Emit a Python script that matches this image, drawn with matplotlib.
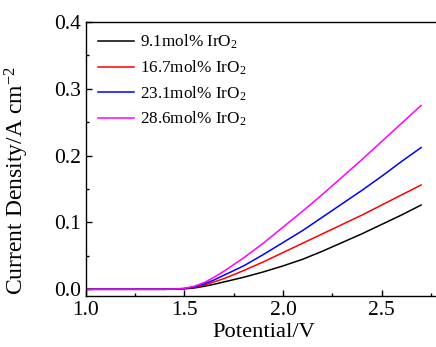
import matplotlib
matplotlib.use('Agg')
import matplotlib.pyplot as plt

plt.rcParams['font.family'] = 'Liberation Serif'
plt.rcParams['mathtext.fontset'] = 'custom'
plt.rcParams['mathtext.rm'] = 'Liberation Serif'
plt.rcParams['mathtext.it'] = 'Liberation Serif:italic'

# potential (V) and current density (A cm^-2)
potential = [1.0, 1.2, 1.4, 1.45, 1.5, 1.55, 1.6, 1.65, 1.7, 1.8, 1.9, 2.0, 2.1, 2.2, 2.3, 2.4, 2.5, 2.6, 2.7]
j_9_1 = [0, 0, 0, 0.0002, 0.0008, 0.002, 0.0045, 0.0075, 0.011, 0.018, 0.026, 0.035, 0.045, 0.057, 0.070, 0.083, 0.097, 0.111, 0.126]
j_16_7 = [0, 0, 0, 0.0002, 0.001, 0.003, 0.0065, 0.011, 0.016, 0.028, 0.041, 0.055, 0.069, 0.083, 0.097, 0.111, 0.126, 0.141, 0.156]
j_23_1 = [0, 0, 0, 0.0003, 0.0012, 0.0035, 0.008, 0.014, 0.021, 0.035, 0.052, 0.070, 0.088, 0.108, 0.128, 0.148, 0.169, 0.191, 0.212]
j_28_6 = [0, 0, 0, 0.0004, 0.0015, 0.0045, 0.010, 0.018, 0.027, 0.047, 0.069, 0.093, 0.117, 0.142, 0.168, 0.194, 0.221, 0.248, 0.275]
labels = ['9.1mol% IrO$_2$', '16.7mol% IrO$_2$', '23.1mol% IrO$_2$', '28.6mol% IrO$_2$']
colors = ['black', 'red', 'blue', 'magenta']

fig = plt.figure(figsize=(4.36, 3.47), dpi=100)
ax = fig.add_axes([0.197, 0.147, 0.814, 0.790])

for ys, lab, c in zip([j_9_1, j_16_7, j_23_1, j_28_6], labels, colors):
    ax.plot(potential, ys, color=c, lw=1.1, label=lab)

ax.set_xlim(1.0, 2.8)
ax.set_ylim(-0.01, 0.4)
ax.set_xticks([1.0, 1.5, 2.0, 2.5])
ax.set_xticks([1.25, 1.75, 2.25, 2.75], minor=True)
ax.set_yticks([0.0, 0.1, 0.2, 0.3, 0.4])
ax.set_yticks([0.05, 0.15, 0.25, 0.35], minor=True)
ax.tick_params(which='both', direction='in', labelsize=15.5, width=1)
ax.tick_params(which='major', length=4)
ax.tick_params(which='minor', length=2.5)
for s in ax.spines.values():
    s.set_linewidth(1)

ax.set_xlabel('Potential/V', fontsize=16.2, labelpad=2)
ax.set_ylabel('Current Density/A cm$^{-2}$', fontsize=17)
ax.yaxis.set_label_coords(-0.155, 0.42)

ax.legend(loc='upper left', bbox_to_anchor=(0.0, 1.003), frameon=False, fontsize=12.3,
          handlelength=2.1, handletextpad=0.35, labelspacing=0.42, borderaxespad=0.3)

fig.savefig('out.png', dpi=100)
